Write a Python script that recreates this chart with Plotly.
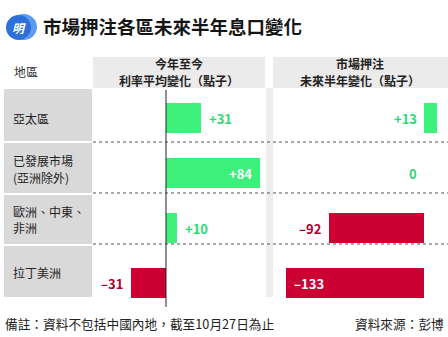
import plotly.graph_objects as go

# ---- data -------------------------------------------------------------
regions = ["亞太區", "已發展市場\n(亞洲除外)", "歐洲、中東、\n非洲", "拉丁美洲"]
ytd_change = [31, 84, 10, -31]            # 今年至今利率平均變化（點子）
next_half_change = [13, 0, -92, -133]     # 市場押注未來半年變化（點子）

title_text = "市場押注各區未來半年息口變化"
header_region = "地區"
header_ytd = "今年至今\n利率平均變化（點子）"
header_next = "市場押注\n未來半年變化（點子）"
note_text = "備註：資料不包括中國內地，截至10月27日為止"
source_text = "資料來源：彭博"

# ---- styling ------------------------------------------------------------
W, H = 448, 337
FONT = "Noto Sans CJK TC"
GREEN_BAR = "#3cf07c"
GREEN_TXT = "#2ed873"
RED_BAR = "#cc0033"
RED_TXT = "#b3002c"
HEAD_BG = "#ebebeb"
ROW_BG = "#d9d9d9"


def px(x):
    return x / W


def py(y):
    return 1 - y / H


# panel geometry (pixels): left/right edge, zero position, pixels per point
P1 = dict(left=93, right=265, zero=166, scale=1.12)
P2 = dict(left=273, right=448, zero=424, scale=1.035)


def x_range(p):
    return [(p["left"] - p["zero"]) / p["scale"], (p["right"] - p["zero"]) / p["scale"]]


# rows: first bar centre at 118px, 55px apart
ROW_PX, ROW_STEP, BAR_PX = 118, 55, 30
y_top = -ROW_PX / ROW_STEP
y_bottom = y_top + H / ROW_STEP
rows = list(range(len(regions)))


def fmt(v):
    if v > 0:
        return f"+{v}"
    if v < 0:
        return f"\u2013{abs(v)}"
    return "0"


def text_lines(x, y_first, text, step, size, color, anchor="left", bold=False):
    """One annotation per line so each line keeps its own box."""
    out = []
    for k, line in enumerate(text.split("\n")):
        out.append(dict(xref="paper", yref="paper", x=px(x), y=py(y_first + k * step),
                        xanchor=anchor, yanchor="middle", showarrow=False,
                        text=f"<b>{line}</b>" if bold else line,
                        font=dict(family=FONT, size=size, color=color)))
    return out


fig = go.Figure()

for vals, xa in ((ytd_change, "x"), (next_half_change, "x2")):
    fig.add_trace(go.Bar(
        x=vals, y=rows, orientation="h", width=BAR_PX / ROW_STEP,
        marker=dict(color=[GREEN_BAR if v >= 0 else RED_BAR for v in vals], line=dict(width=0)),
        xaxis=xa, yaxis="y" if xa == "x" else "y2",
        hoverinfo="skip", showlegend=False,
    ))

shapes = []
annotations = []

# header panels and separator strip
shapes.append(dict(type="rect", xref="paper", yref="paper", x0=px(93), x1=px(265),
                   y0=py(88), y1=py(57), fillcolor=HEAD_BG, line_width=0, layer="below"))
shapes.append(dict(type="rect", xref="paper", yref="paper", x0=px(273), x1=px(448),
                   y0=py(88), y1=py(57), fillcolor=HEAD_BG, line_width=0, layer="below"))
shapes.append(dict(type="rect", xref="paper", yref="paper", x0=px(266), x1=px(273),
                   y0=py(297), y1=py(88), fillcolor="#eeeeee", line_width=0, layer="below"))

# region column boxes and dotted row separators
row_bounds = [(89, 141), (143, 193), (195, 244), (246, 297)]
label_first = [118, 161, 211, 272]
for i, (t, b) in enumerate(row_bounds):
    shapes.append(dict(type="rect", xref="paper", yref="paper", x0=px(4), x1=px(92),
                       y0=py(b), y1=py(t), fillcolor=ROW_BG, line_width=0, layer="below"))
    annotations += text_lines(11, label_first[i], regions[i], 16.5, 12, "#222")
for y in (142, 193, 244):
    shapes.append(dict(type="line", xref="paper", yref="paper", x0=px(93), x1=1,
                       y0=py(y), y1=py(y), line=dict(color="#555", width=1, dash="dot")))

# zero line of the first panel
shapes.append(dict(type="line", xref="x", yref="paper", x0=0, x1=0, y0=py(307), y1=py(90),
                   line=dict(color="#222", width=1)))

# value labels, panel 1
for i, v in enumerate(ytd_change):
    col = GREEN_TXT if v >= 0 else RED_TXT
    if abs(v) >= 60:
        a = dict(x=v, xanchor="right" if v > 0 else "left", xshift=-6 if v > 0 else 6, color="white")
    else:
        a = dict(x=v, xanchor="left" if v >= 0 else "right", xshift=6 if v >= 0 else -6, color=col)
    annotations.append(dict(xref="x", yref="y", x=a["x"], y=i, xanchor=a["xanchor"], xshift=a["xshift"],
                            yanchor="middle", showarrow=False, text=f"<b>{fmt(v)}</b>",
                            font=dict(family=FONT, size=13, color=a["color"])))

# value labels, panel 2
for i, v in enumerate(next_half_change):
    if v >= 0:
        a = dict(x=0, xanchor="right", xshift=-5, color=GREEN_TXT)
    elif abs(v) >= 100:
        a = dict(x=v, xanchor="left", xshift=6, color="white")
    else:
        a = dict(x=v, xanchor="right", xshift=-6, color=RED_TXT)
    annotations.append(dict(xref="x2", yref="y2", x=a["x"], y=i, xanchor=a["xanchor"], xshift=a["xshift"],
                            yanchor="middle", showarrow=False, text=f"<b>{fmt(v)}</b>",
                            font=dict(family=FONT, size=13, color=a["color"])))

# headers
annotations += text_lines(12, 71, header_region, 17, 12, "#333")
annotations += text_lines(179, 63, header_ytd, 17, 12, "#222", anchor="center", bold=True)
annotations += text_lines(360, 63, header_next, 17, 12, "#222", anchor="center", bold=True)

# title with logo
shapes.append(dict(type="circle", xref="paper", yref="paper", x0=px(10), x1=px(37), y0=py(40), y1=py(14),
                   fillcolor="#5b9cf0", line_width=0))
shapes.append(dict(type="circle", xref="paper", yref="paper", x0=px(6), x1=px(31), y0=py(40), y1=py(15),
                   fillcolor="#2f6fd8", line_width=0))
annotations.append(dict(xref="paper", yref="paper", x=px(18.5), y=py(27.5), xanchor="center", yanchor="middle",
                        showarrow=False, text="<b><i>明</i></b>", font=dict(family=FONT, size=12, color="white")))
annotations.append(dict(xref="paper", yref="paper", x=px(41), y=py(26), xanchor="left", yanchor="middle",
                        showarrow=False, text=f"<b>{title_text}</b>",
                        font=dict(family=FONT, size=18.5, color="#151515")))

# footer
annotations.append(dict(xref="paper", yref="paper", x=px(3), y=py(323), xanchor="left", yanchor="middle",
                        showarrow=False, text=note_text, font=dict(family=FONT, size=12.7, color="#222")))
annotations.append(dict(xref="paper", yref="paper", x=px(446), y=py(323), xanchor="right", yanchor="middle",
                        showarrow=False, text=source_text, font=dict(family=FONT, size=12.7, color="#222")))

fig.update_layout(
    width=W, height=H, margin=dict(l=0, r=0, t=0, b=0),
    paper_bgcolor="white", plot_bgcolor="rgba(0,0,0,0)",
    xaxis=dict(domain=[px(P1["left"]), px(P1["right"])], range=x_range(P1), visible=False, fixedrange=True),
    xaxis2=dict(domain=[px(P2["left"]), px(P2["right"])], range=x_range(P2), visible=False, fixedrange=True),
    yaxis=dict(domain=[0, 1], range=[y_bottom, y_top], visible=False, fixedrange=True),
    yaxis2=dict(domain=[0, 1], range=[y_bottom, y_top], visible=False, fixedrange=True, anchor="x2"),
    shapes=shapes, annotations=annotations, bargap=0,
)

fig.write_html("out.html", config=dict(displayModeBar=False))
